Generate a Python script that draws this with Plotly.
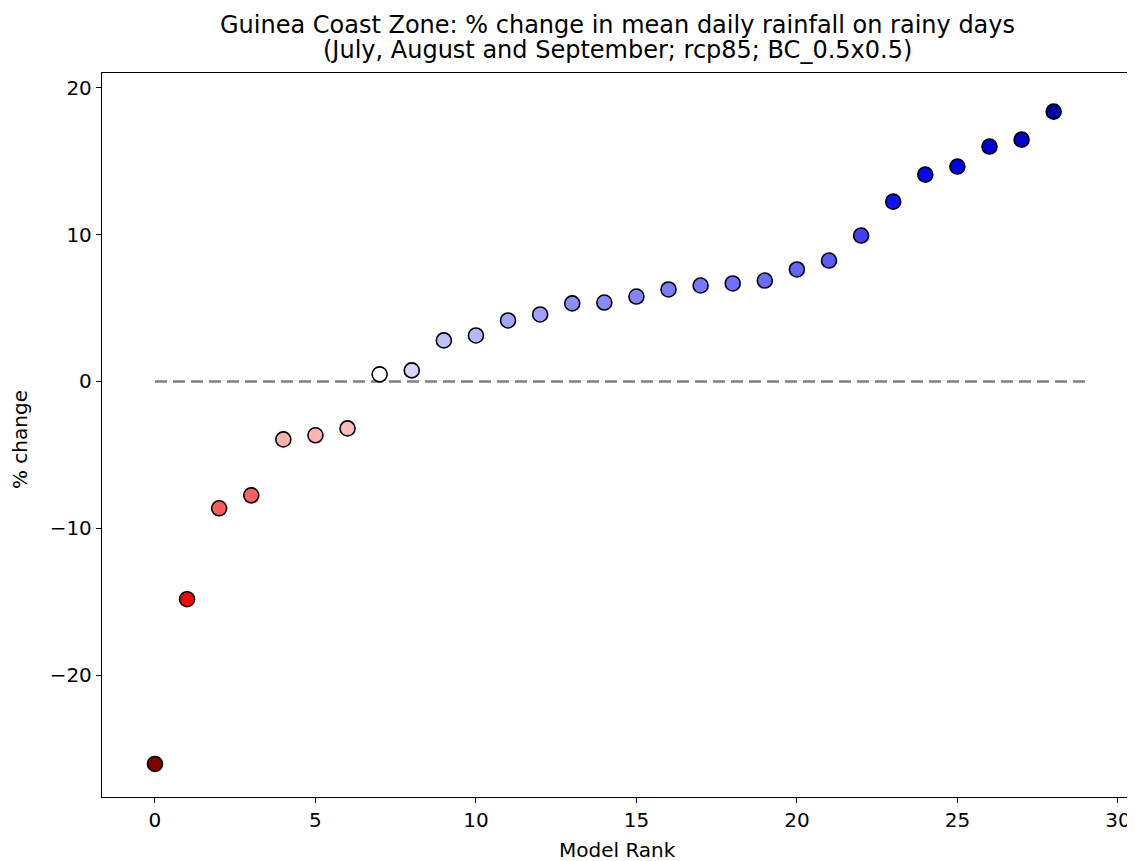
import plotly.graph_objects as go

rank = list(range(29))
pct_change = [-26.05, -14.83, -8.64, -7.76, -3.95, -3.67, -3.2, 0.48, 0.75, 2.79,
              3.13, 4.15, 4.56, 5.31, 5.37, 5.78, 6.26, 6.53, 6.67, 6.87,
              7.62, 8.23, 9.93, 12.24, 14.08, 14.63, 15.99, 16.46, 18.37]
colors = ["#800000", "#ff0000", "#ff5c5c", "#ff6262", "#ffb0b0", "#ffb4b4", "#ffbcbc",
          "#ffffff", "#d8d8ff", "#c0c0ff", "#b8b8ff", "#a4a4ff", "#a0a0ff", "#8c8cff",
          "#8888ff", "#8484ff", "#7c7cff", "#7878ff", "#7070ff", "#6c6cff", "#6464ff",
          "#5a5aff", "#4040ff", "#1010ff", "#0808f0", "#0000e8", "#0000d8", "#0000d0",
          "#0000a8"]
zero_x = [0, 29]
zero_y = [0, 0]
x_ticks = [0, 5, 10, 15, 20, 25, 30]
y_ticks = [-20, -10, 0, 10, 20]
y_ticktext = ["\u221220", "\u221210", "0", "10", "20"]
title_line1 = "Guinea Coast Zone: % change in mean daily rainfall on rainy days"
title_line2 = "(July, August and September; rcp85; BC_0.5x0.5)"

fig = go.Figure()
fig.add_trace(go.Scatter(x=zero_x, y=zero_y, mode="lines",
                         line=dict(color="gray", width=2.5, dash="12px,6px"),
                         hoverinfo="skip", showlegend=False))
fig.add_trace(go.Scatter(x=rank, y=pct_change, mode="markers",
                         marker=dict(size=15, color=colors,
                                     line=dict(color="black", width=1.6)),
                         showlegend=False))

font = "DejaVu Sans, sans-serif"
# page body has an 8px margin; the figure is sized to fit the window
fig.update_layout(
    width=1127, height=853,
    margin=dict(l=94, r=3, t=65, b=64, autoexpand=False),
    paper_bgcolor="white", plot_bgcolor="white",
    font=dict(family=font, color="black", size=20),
)
annot_font = dict(family=font, color="black")
fig.add_annotation(text=title_line1, xref="paper", yref="paper", x=0.5, y=1.0663,
                   xanchor="center", yanchor="middle", showarrow=False,
                   font=dict(size=24, **annot_font))
fig.add_annotation(text=title_line2, xref="paper", yref="paper", x=0.5, y=1.0318,
                   xanchor="center", yanchor="middle", showarrow=False,
                   font=dict(size=24, **annot_font))
fig.add_annotation(text="Model Rank", xref="paper", yref="paper", x=0.5, y=(797 - 850) / 724,
                   xanchor="center", yanchor="middle", showarrow=False,
                   font=dict(size=20, **annot_font))
fig.add_annotation(text="% change", xref="paper", yref="paper", x=(20 - 102) / 1030, y=(797 - 440) / 724,
                   xanchor="center", yanchor="middle", showarrow=False, textangle=-90,
                   font=dict(size=20, **annot_font))

axis_common = dict(showline=True, linecolor="black", linewidth=1.3, mirror=True,
                   ticks="outside", ticklen=5, tickwidth=1.3, tickcolor="black",
                   showgrid=False, zeroline=False, automargin=False,
                   tickfont=dict(size=20, family=font, color="black"))
fig.update_xaxes(range=[-1.65, 30.44], tickmode="array", tickvals=x_ticks, **axis_common)
fig.update_yaxes(range=[-28.3, 21.0], tickmode="array", tickvals=y_ticks,
                 ticktext=y_ticktext, **axis_common)

fig.write_html("out.html")
